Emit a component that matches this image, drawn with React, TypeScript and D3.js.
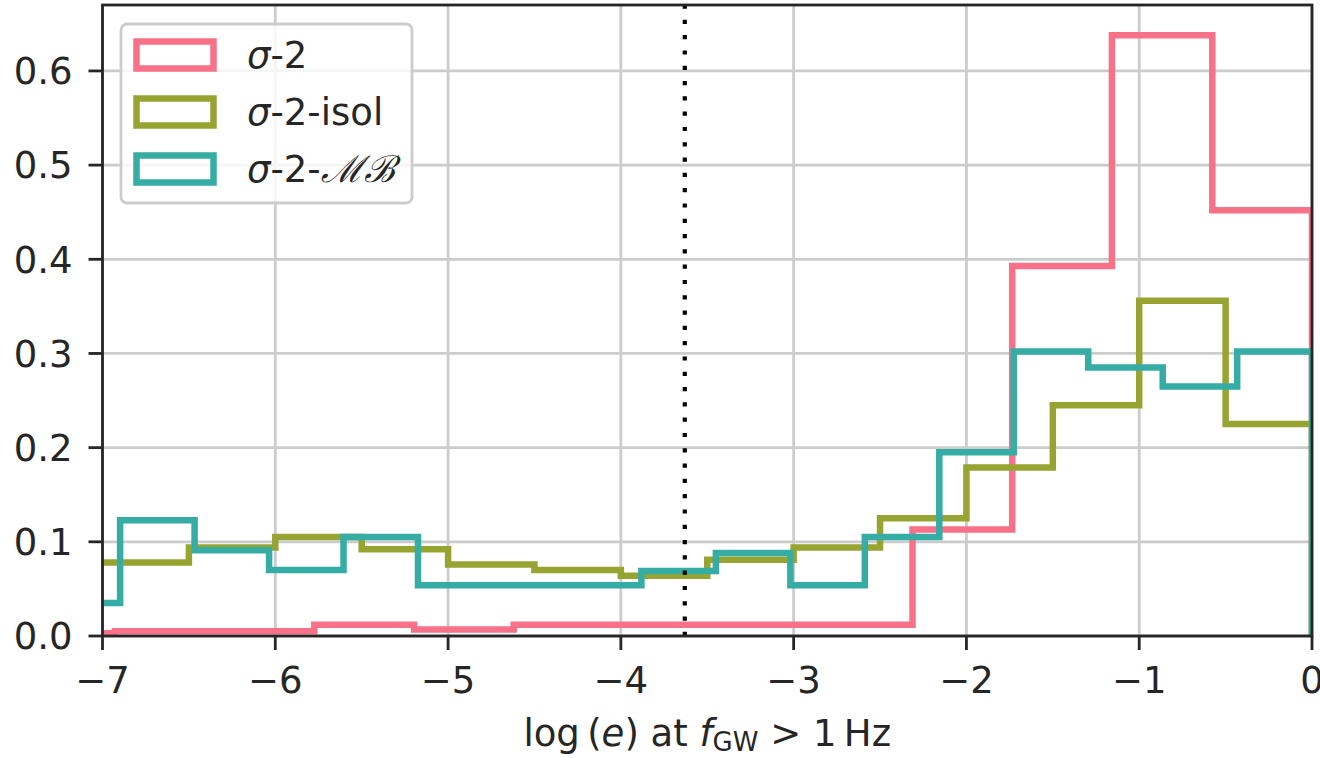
import { useRef, useEffect } from 'react';
import * as d3 from 'd3';

const WIDTH = 1320;
const HEIGHT = 758;
const MARGIN = { top: 5, right: 8, bottom: 122, left: 102.5 };

// bin edges (log e) and heights
const sigmaEdges = [-7.505, -6.928, -6.351, -5.774, -5.197, -4.62, -4.043, -3.466, -2.889, -2.312, -1.735, -1.158, -0.577, 0];
const sigmaValues = [0.003, 0.005, 0.005, 0.012, 0.007, 0.012, 0.012, 0.012, 0.012, 0.113, 0.393, 0.638, 0.452];

const isolEdges = [-7, -6.5, -6, -5.5, -5, -4.5, -4, -3.5, -3, -2.5, -2, -1.5, -1, -0.5, 0];
const isolValues = [0.078, 0.094, 0.105, 0.092, 0.076, 0.07, 0.064, 0.081, 0.094, 0.125, 0.179, 0.245, 0.356, 0.225];

const mbEdges = [-7.329, -6.898, -6.467, -6.036, -5.605, -5.174, -4.743, -4.312, -3.881, -3.45, -3.019, -2.588, -2.157, -1.726, -1.295, -0.864, -0.433, 0];
const mbValues = [0.035, 0.123, 0.091, 0.07, 0.105, 0.054, 0.054, 0.054, 0.069, 0.088, 0.054, 0.105, 0.195, 0.302, 0.285, 0.265, 0.302];

const xTicks = [-7, -6, -5, -4, -3, -2, -1, 0];
const yTicks = [0, 0.1, 0.2, 0.3, 0.4, 0.5, 0.6];
const cutLine = -3.63;

const series = [
  { name: 'sigma', edges: sigmaEdges, values: sigmaValues, color: '#f77189' },
  { name: 'isol', edges: isolEdges, values: isolValues, color: '#97a431' },
  { name: 'mb', edges: mbEdges, values: mbValues, color: '#36ada4' },
];

const FONT = 'DejaVu Sans, sans-serif';
const TEXT = '#262626';
const FS = 37;

export default function App() {
  const svgRef = useRef<SVGSVGElement>(null);

  useEffect(() => {
    document.body.style.margin = '0';
    const svg = d3.select(svgRef.current);
    svg.selectAll('*').remove();

    const x = d3.scaleLinear().domain([-7, 0]).range([MARGIN.left, WIDTH - MARGIN.right]);
    const y = d3.scaleLinear().domain([0, 0.67]).range([HEIGHT - MARGIN.bottom, MARGIN.top]);
    const [x0, x1] = x.range();
    const [y0, y1] = y.range();

    svg.append('rect').attr('width', WIDTH).attr('height', HEIGHT).attr('fill', '#fff');

    svg
      .append('clipPath')
      .attr('id', 'plot-clip')
      .append('rect')
      .attr('x', x0)
      .attr('y', y1)
      .attr('width', x1 - x0)
      .attr('height', y0 - y1);

    // grid
    const grid = svg.append('g');
    xTicks.forEach((t) => {
      grid
        .append('line')
        .attr('x1', x(t))
        .attr('x2', x(t))
        .attr('y1', y0)
        .attr('y2', y1)
        .attr('stroke', '#cccccc')
        .attr('stroke-width', 2.8);
    });
    yTicks.forEach((t) => {
      grid
        .append('line')
        .attr('x1', x0)
        .attr('x2', x1)
        .attr('y1', y(t))
        .attr('y2', y(t))
        .attr('stroke', '#cccccc')
        .attr('stroke-width', 2.8);
    });

    // step histograms
    const line = d3
      .line<[number, number]>()
      .x((d) => x(d[0]))
      .y((d) => y(d[1]));
    const hist = svg.append('g').attr('clip-path', 'url(#plot-clip)');
    series.forEach((s) => {
      // the left edge rises from 0 only when it lies inside the axes
      const pts: [number, number][] = s.edges[0] < -7 ? [[s.edges[0], 0]] : [];
      s.values.forEach((v, i) => {
        pts.push([s.edges[i], v]);
        pts.push([s.edges[i + 1], v]);
      });
      pts.push([s.edges[s.edges.length - 1], 0]);
      hist
        .append('path')
        .attr('d', line(pts))
        .attr('fill', 'none')
        .attr('stroke', s.color)
        .attr('stroke-width', 6.5)
        .attr('stroke-linejoin', 'miter');
    });

    // dotted cut
    svg
      .append('line')
      .attr('x1', x(cutLine))
      .attr('x2', x(cutLine))
      .attr('y1', y0)
      .attr('y2', y1)
      .attr('stroke', '#000')
      .attr('stroke-width', 4.2)
      .attr('stroke-dasharray', '4.2,11.1');

    // spines
    svg
      .append('rect')
      .attr('x', x0)
      .attr('y', y1)
      .attr('width', x1 - x0)
      .attr('height', y0 - y1)
      .attr('fill', 'none')
      .attr('stroke', TEXT)
      .attr('stroke-width', 2.8);

    // x ticks
    const fmt = (t: number) => (t < 0 ? '\u2212' + Math.abs(t) : String(t));
    xTicks.forEach((t) => {
      svg
        .append('line')
        .attr('x1', x(t))
        .attr('x2', x(t))
        .attr('y1', y0)
        .attr('y2', y0 + 14)
        .attr('stroke', TEXT)
        .attr('stroke-width', 2.8);
      svg
        .append('text')
        .attr('x', x(t))
        .attr('y', y0 + 57)
        .attr('text-anchor', 'middle')
        .attr('font-family', FONT)
        .attr('font-size', FS)
        .attr('fill', TEXT)
        .text(fmt(t));
    });

    // y ticks
    yTicks.forEach((t) => {
      svg
        .append('line')
        .attr('x1', x0 - 14)
        .attr('x2', x0)
        .attr('y1', y(t))
        .attr('y2', y(t))
        .attr('stroke', TEXT)
        .attr('stroke-width', 2.8);
      svg
        .append('text')
        .attr('x', x0 - 30)
        .attr('y', y(t))
        .attr('dy', '0.36em')
        .attr('text-anchor', 'end')
        .attr('font-family', FONT)
        .attr('font-size', FS)
        .attr('fill', TEXT)
        .text(t.toFixed(1));
    });

    // x label
    const xl = svg
      .append('text')
      .attr('x', (x0 + x1) / 2)
      .attr('y', 746)
      .attr('text-anchor', 'middle')
      .attr('font-family', FONT)
      .attr('font-size', FS)
      .attr('fill', TEXT);
    xl.append('tspan').text('log\u2009(');
    xl.append('tspan').attr('font-style', 'italic').text('e');
    xl.append('tspan').text(') at ');
    xl.append('tspan').attr('font-style', 'italic').text('f');
    xl.append('tspan').attr('font-size', 26).attr('dy', 5).text('GW');
    xl.append('tspan').attr('dy', -5).text(' > 1\u2009Hz');

    // legend
    const lg = svg.append('g');
    lg.append('rect')
      .attr('x', 121)
      .attr('y', 24)
      .attr('width', 291)
      .attr('height', 179)
      .attr('rx', 6)
      .attr('fill', 'rgba(255,255,255,0.8)')
      .attr('stroke', '#cccccc')
      .attr('stroke-width', 2.8);
    const labels = [
      { math: '\u03c3', rest: '-2', script: '' },
      { math: '\u03c3', rest: '-2-isol', script: '' },
      { math: '\u03c3', rest: '-2-', script: '\u2133\u212c' },
    ];
    series.forEach((s, i) => {
      const cy = 55 + i * 57;
      lg.append('rect')
        .attr('x', 136.5)
        .attr('y', cy - 13.5)
        .attr('width', 77)
        .attr('height', 27)
        .attr('fill', 'none')
        .attr('stroke', s.color)
        .attr('stroke-width', 6.5);
      const t = lg
        .append('text')
        .attr('x', 247)
        .attr('y', cy + 13)
        .attr('font-family', FONT)
        .attr('font-size', FS)
        .attr('fill', TEXT);
      t.append('tspan').attr('font-style', 'italic').text(labels[i].math);
      t.append('tspan').text(labels[i].rest);
      if (labels[i].script) {
        t.append('tspan')
          .attr('font-family', 'DejaVu Serif, serif')
          .attr('font-style', 'italic')
          .text(labels[i].script);
      }
    });
  }, []);

  return <svg ref={svgRef} width={WIDTH} height={HEIGHT} style={{ display: 'block' }} />;
}
